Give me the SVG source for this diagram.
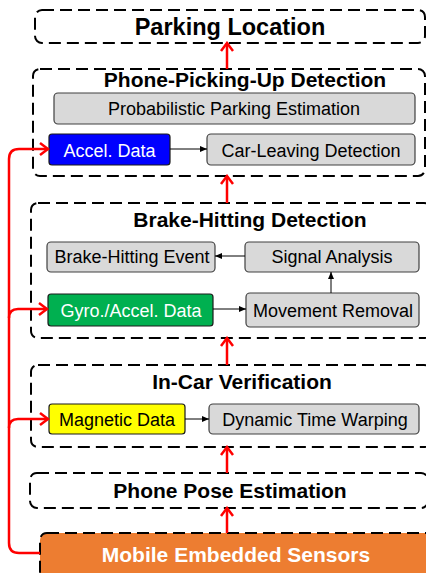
<svg xmlns="http://www.w3.org/2000/svg" width="426" height="573" viewBox="0 0 426 573">
<style>
  .dash { fill: #ffffff; stroke: #000000; stroke-width: 2; stroke-dasharray: 12 6; }
  .gray { fill: #d9d9d9; stroke: #404040; stroke-width: 1.2; }
  .title { font-family: "Liberation Sans", Arial, sans-serif; font-weight: bold; font-size: 21px; fill: #000; text-anchor: middle; }
  .lbl { font-family: "Liberation Sans", Arial, sans-serif; font-size: 18px; fill: #000; text-anchor: middle; }
  .wlbl { font-family: "Liberation Sans", Arial, sans-serif; font-size: 18px; fill: #fff; text-anchor: middle; }
  .red { fill: none; stroke: #ff0000; stroke-width: 2.5; }
  .blk { fill: none; stroke: #000000; stroke-width: 1; }
</style>
<defs>
  <marker id="redArrow" viewBox="-10 -8 12 16" markerWidth="12" markerHeight="16" refX="0" refY="0" orient="auto" markerUnits="userSpaceOnUse">
    <path d="M -8 -6 L 0 0 L -8 6" fill="none" stroke="#ff0000" stroke-width="2.5" stroke-linejoin="miter"/>
  </marker>
  <marker id="blkArrow" viewBox="-7 -4 8 8" markerWidth="8" markerHeight="8" refX="0" refY="0" orient="auto" markerUnits="userSpaceOnUse">
    <path d="M -7 -3 L 0 0 L -7 3 Z" fill="#000"/>
  </marker>
</defs>

<g id="parking-location">
  <rect class="dash" x="35" y="10" width="390" height="33" rx="7"/>
  <text class="title" x="230" y="35" style="font-size:23.5px">Parking Location</text>
</g>

<g id="phone-picking-up-detection">
  <rect class="dash" x="33" y="69" width="392" height="107" rx="7"/>
  <text class="title" x="245" y="87">Phone-Picking-Up Detection</text>
</g>
<g id="probabilistic-parking-estimation">
  <rect class="gray" x="54" y="93" width="361" height="31" rx="4"/>
  <text class="lbl" x="234" y="115">Probabilistic Parking Estimation</text>
</g>
<g id="accel-data">
  <rect x="49" y="134" width="121" height="31" rx="3" fill="#0000ff" stroke="#1a1a1a" stroke-width="1.2"/>
  <text class="wlbl" x="109.5" y="157">Accel. Data</text>
</g>
<g id="car-leaving-detection">
  <rect class="gray" x="207" y="134" width="208" height="31" rx="4"/>
  <text class="lbl" x="311" y="157">Car-Leaving Detection</text>
</g>

<g id="brake-hitting-detection">
  <rect class="dash" x="31" y="203" width="400" height="135" rx="7"/>
  <text class="title" x="250" y="227">Brake-Hitting Detection</text>
</g>
<g id="brake-hitting-event">
  <rect class="gray" x="47" y="242" width="168" height="30" rx="4"/>
  <text class="lbl" x="132" y="263">Brake-Hitting Event</text>
</g>
<g id="signal-analysis">
  <rect class="gray" x="245" y="242" width="174" height="30" rx="4"/>
  <text class="lbl" x="332" y="263">Signal Analysis</text>
</g>
<g id="gyro-accel-data">
  <rect x="48" y="294" width="165" height="32" rx="3" fill="#00b050" stroke="#1a1a1a" stroke-width="1.2"/>
  <text class="wlbl" x="131" y="317">Gyro./Accel. Data</text>
</g>
<g id="movement-removal">
  <rect class="gray" x="246" y="293" width="173" height="34" rx="4"/>
  <text class="lbl" x="333" y="317">Movement Removal</text>
</g>

<g id="in-car-verification">
  <rect class="dash" x="31" y="365" width="400" height="82" rx="7"/>
  <text class="title" x="242" y="389">In-Car Verification</text>
</g>
<g id="magnetic-data">
  <rect x="49" y="404" width="136" height="30" rx="3" fill="#ffff00" stroke="#1a1a1a" stroke-width="1.2"/>
  <text class="lbl" x="117" y="426">Magnetic Data</text>
</g>
<g id="dynamic-time-warping">
  <rect class="gray" x="209" y="404" width="210" height="30" rx="4"/>
  <text class="lbl" x="315" y="426">Dynamic Time Warping</text>
</g>

<g id="phone-pose-estimation">
  <rect class="dash" x="30" y="473" width="398" height="35" rx="7"/>
  <text class="title" x="230" y="498">Phone Pose Estimation</text>
</g>

<g id="mobile-embedded-sensors">
  <rect x="40" y="533" width="400" height="60" rx="7" fill="#ed7d31" stroke="#000" stroke-width="2" stroke-dasharray="12 6"/>
  <text class="title" x="236" y="562" style="fill:#ffffff">Mobile Embedded Sensors</text>
</g>

<g id="connectors">
  <line class="red" x1="227" y1="69" x2="227" y2="43" marker-end="url(#redArrow)"/>
  <line class="red" x1="227" y1="203" x2="227" y2="176" marker-end="url(#redArrow)"/>
  <line class="red" x1="227" y1="365" x2="227" y2="338" marker-end="url(#redArrow)"/>
  <line class="red" x1="227" y1="473" x2="227" y2="447" marker-end="url(#redArrow)"/>
  <line class="red" x1="227" y1="533" x2="227" y2="508" marker-end="url(#redArrow)"/>
  <path class="red" d="M 40 553 H 19 Q 9 553 9 543 V 159 Q 9 149 19 149 H 48" marker-end="url(#redArrow)"/>
  <path class="red" d="M 9 318 Q 9 309 18 309 H 47" marker-end="url(#redArrow)"/>
  <path class="red" d="M 9 428 Q 9 419 18 419 H 48" marker-end="url(#redArrow)"/>
  <line class="blk" x1="170" y1="149" x2="207" y2="149" marker-end="url(#blkArrow)"/>
  <line class="blk" x1="245" y1="256" x2="215" y2="256" marker-end="url(#blkArrow)"/>
  <line class="blk" x1="213" y1="309" x2="246" y2="309" marker-end="url(#blkArrow)"/>
  <line class="blk" x1="331" y1="293" x2="331" y2="272" marker-end="url(#blkArrow)"/>
  <line class="blk" x1="185" y1="419" x2="209" y2="419" marker-end="url(#blkArrow)"/>
</g>
</svg>
